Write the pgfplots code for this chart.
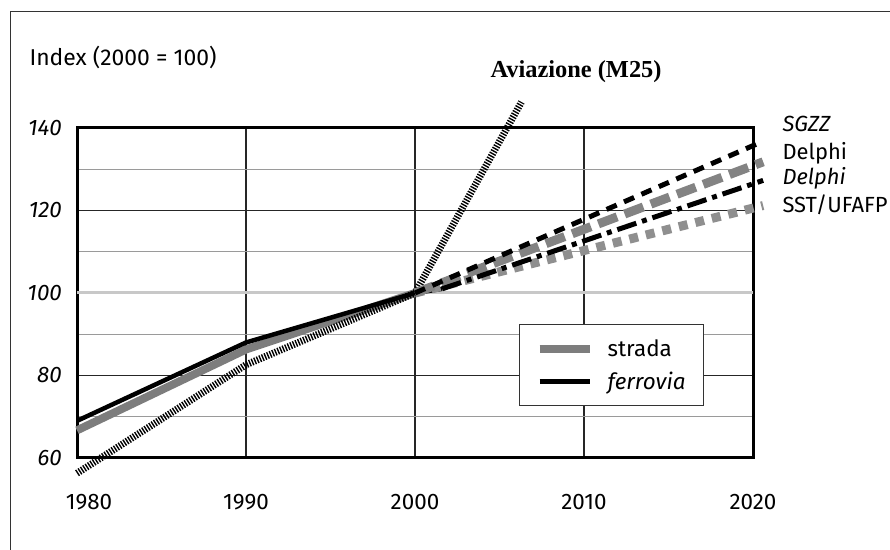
\documentclass[border=0pt]{standalone}
\usepackage{fontspec}
\setmainfont{Fira Sans}
\newfontfamily\serifb{Liberation Serif}
\usepackage{pgfplots}
\pgfplotsset{compat=1.18}
\definecolor{strada}{HTML}{7D7D7D}
\definecolor{dgray}{HTML}{838383}
\definecolor{sgray}{HTML}{8F8F8F}
\definecolor{mgrid}{HTML}{9A9A9A}
\definecolor{lgrid}{HTML}{C8C8C8}
\begin{document}
\begin{tikzpicture}[x=1bp,y=1bp]
\useasboundingbox (0,0) rectangle (890,550);
\draw[line width=1bp, black!80] (10,0) -- (10,538) -- (890,538);
\begin{axis}[at={(77bp,92bp)}, anchor=south west, scale only axis,
  width=676bp, height=330bp,
  xmin=1980, xmax=2020, ymin=60, ymax=140, clip=false,
  axis line style={line width=3bp},
  xtick={1980,1990,2000,2010,2020},
  xticklabels={\hspace*{24bp}1980,1990,2000,2010,2020},
  ytick={60,80,100,120,140},
  minor ytick={70,90,110,130},
  extra y ticks={100}, extra y tick labels={},
  extra y tick style={major grid style={draw=lgrid, line width=3bp}},
  xmajorgrids, ymajorgrids, yminorgrids,
  major grid style={draw=black!85, line width=1.2bp},
  minor grid style={draw=mgrid, line width=1.2bp},
  major tick length=0, minor tick length=0,
  /pgf/number format/assume math mode=true,
  tick label style={font=\fontsize{22.5}{26}\selectfont, inner sep=0pt},
  yticklabel style={font=\itshape\fontsize{22.5}{26}\selectfont, anchor=east, xshift=-15bp},
  xticklabel style={anchor=north, yshift=-36bp},
  legend style={at={(rel axis cs:0.654,0.406)}, anchor=north west, draw=black!80, line width=1bp,
    inner xsep=16bp, inner ysep=13bp, row sep=10bp, column sep=12bp,
    font=\fontsize{22.5}{26}\selectfont, cells={anchor=west}},
  legend image code/.code={\draw[#1] (0bp,0bp) -- (50bp,0bp);},
]
\addplot[draw=strada, line width=8bp] coordinates {(1980,66.7) (1990,86.3) (2000,100)};
\addlegendentry{strada}
\addplot[draw=black, line width=4.5bp] coordinates {(1980,69) (1990,88) (2000,100) (2001.6,101)};
\addlegendentry{\itshape ferrovia}
\addplot[forget plot, draw=black, line width=7bp, dash pattern=on 1.4bp off 1.4bp] coordinates {(1980,56.3) (1990,82.6) (2000,100) (2006.3,146.3)};
\addplot[forget plot, draw=sgray, line width=9bp, dash pattern=on 9bp off 8bp] coordinates {(2000,100) (2020.6,121.2)};
\addplot[forget plot, draw=dgray, line width=9bp, dash pattern=on 20bp off 8bp] coordinates {(2000,100) (2020.6,131.8)};
\addplot[forget plot, draw=black, line width=5bp, dash pattern=on 20bp off 6bp on 5bp off 6bp] coordinates {(2001.6,101) (2020.6,127.3)};
\addplot[forget plot, draw=black, line width=5bp, dash pattern=on 11bp off 8bp] coordinates {(2000,100) (2020.6,136.8)};
\end{axis}
\node[anchor=base west, font=\fontsize{23}{27}\selectfont] at (26,484) {Index (2000 = 100)};
\node[anchor=base west, font=\serifb\bfseries\fontsize{24.5}{28}\selectfont] at (487,472) {Aviazione (M25)};
\node[anchor=base west, font=\itshape\fontsize{22}{26}\selectfont] at (779,418) {SGZZ};
\node[anchor=base west, font=\fontsize{22}{26}\selectfont] at (779,390) {Delphi};
\node[anchor=base west, font=\itshape\fontsize{22}{26}\selectfont] at (779,365) {Delphi};
\node[anchor=base west, font=\fontsize{22}{26}\selectfont] at (779,337) {SST/UFAFP};
\end{tikzpicture}
\end{document}
